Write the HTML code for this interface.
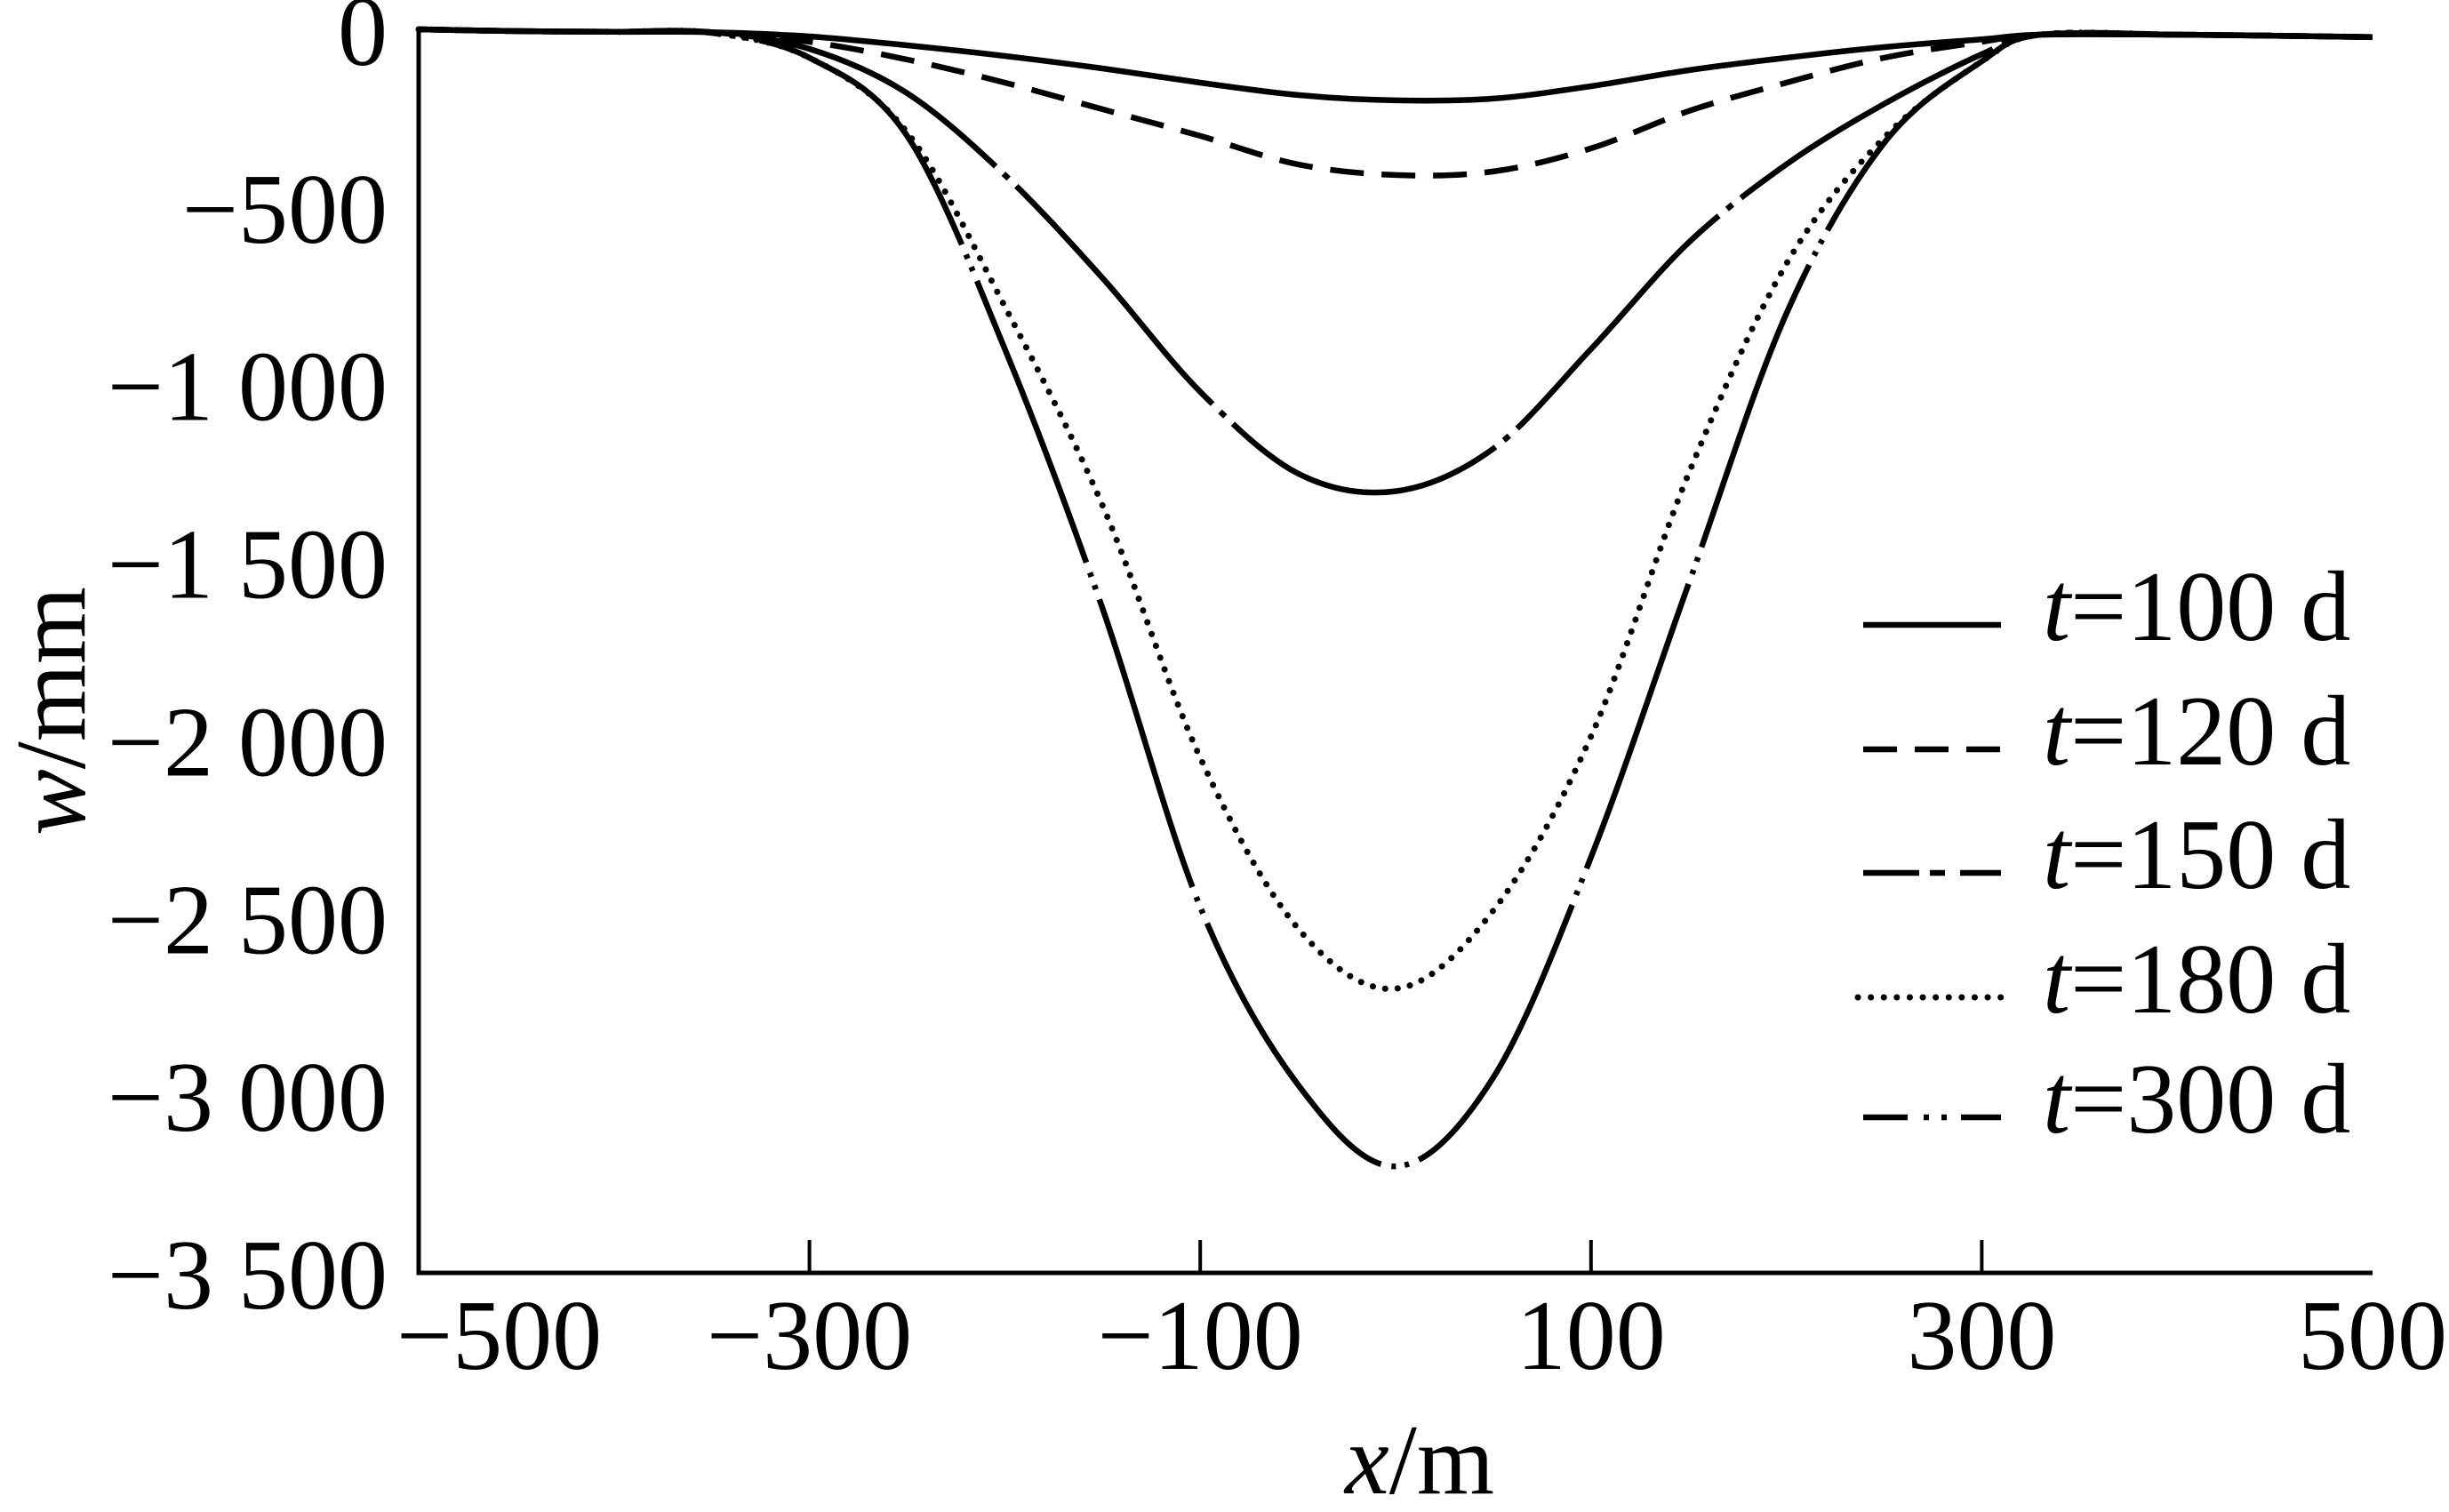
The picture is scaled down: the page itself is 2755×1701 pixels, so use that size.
<!DOCTYPE html>
<html><head><meta charset="utf-8"><style>
html,body{margin:0;padding:0;background:#fff;}
svg text{font-family:"Liberation Serif",serif;fill:#000;}
</style></head><body>
<svg id="chart" width="2755" height="1696" viewBox="0 0 2755 1696" xmlns="http://www.w3.org/2000/svg">
<g id="curves"></g>
<g id="axes"></g>
<g id="legend"></g>
</svg>
<script>
const xs = [-500,-450,-400,-350,-300,-250,-200,-150,-100,-50,0,50,100,150,200,250,300,330,400,450,500];
const s100 = [0,-5,-7,-8,-20,-45,-75,-110,-150,-185,-200,-195,-160,-115,-80,-50,-28,-15,-15,-18,-22];
const s120 = [0,-5,-7,-8,-35,-85,-150,-225,-300,-380,-410,-400,-335,-230,-150,-80,-35,-15,-15,-18,-22];
const s150 = [0,-5,-7,-8,-55,-180,-410,-700,-1020,-1250,-1300,-1180,-900,-600,-380,-210,-70,-15,-15,-18,-22];
const s180 = [0,-5,-7,-10,-80,-290,-780,-1340,-2050,-2530,-2700,-2480,-1990,-1250,-660,-305,-90,-15,-15,-18,-22];
const s300 = [0,-5,-7,-10,-80,-300,-900,-1630,-2470,-2970,-3200,-2950,-2330,-1560,-800,-320,-90,-15,-15,-18,-22];
const seriesNames = ["t=100 d","t=120 d","t=150 d","t=180 d","t=300 d"];
const xTicks = [-500,-300,-100,100,300,500];
const xTickLabels = ["\u2212500","\u2212300","\u2212100","100","300","500"];
const yTicks = [0,-500,-1000,-1500,-2000,-2500,-3000,-3500];
const yTickLabels = ["0","\u2212500","\u22121 000","\u22121 500","\u22122 000","\u22122 500","\u22123 000","\u22123 500"];

const X0=471, X1=2669, Y0=33, Y1=1432;
const xS = v => X0 + (v+500)/1000*(X1-X0);
const yS = v => Y0 + (-v)/3500*(Y1-Y0);
const NS="http://www.w3.org/2000/svg";
function mk(tag, attrs, parent){const e=document.createElementNS(NS,tag);for(const k in attrs)e.setAttribute(k,attrs[k]);parent.appendChild(e);return e;}

function pathFor(vals){
  const p = xs.map((x,i)=>[xS(x),yS(vals[i])]);
  let d = "M"+p[0][0].toFixed(1)+","+p[0][1].toFixed(1);
  for(let i=0;i<p.length-1;i++){
    const a=p[Math.max(0,i-1)], b=p[i], c=p[i+1], e=p[Math.min(p.length-1,i+2)];
    const c1=[b[0]+(c[0]-a[0])/6, b[1]+(c[1]-a[1])/6];
    const c2=[c[0]-(e[0]-b[0])/6, c[1]-(e[1]-b[1])/6];
    d+=" C"+c1[0].toFixed(1)+","+c1[1].toFixed(1)+" "+c2[0].toFixed(1)+","+c2[1].toFixed(1)+" "+c[0].toFixed(1)+","+c[1].toFixed(1);
  }
  return d;
}
const curves=document.getElementById("curves");
const seriesList=[s100,s120,s150,s180,s300];
const dashes=["none","38 20","330 12 8 12","0.1 14","340 12 5 10 5 12"];
const legendDashes=["none","38 20","63 12 17 17 46","0.1 14.5","50 18 6 14 6 16 46"];
const curveIds=["curve-t100","curve-t120","curve-t150","curve-t180","curve-t300"];
seriesList.forEach((s,i)=>{
  const el=mk("path",{d:pathFor(s),fill:"none",stroke:"#000","stroke-width":i==3?7:6.5,"stroke-dasharray":dashes[i],"stroke-linecap":i==3?"round":"butt","stroke-linejoin":"round"},curves);
  
  
});

const axes=document.getElementById("axes");
const yAxis=mk("line",{x1:X0,y1:Y0-2,x2:X0,y2:Y1+2.5,stroke:"#000","stroke-width":5},axes);


const xAxis=mk("line",{x1:X0-2.5,y1:Y1,x2:X1,y2:Y1,stroke:"#000","stroke-width":5},axes);


xTicks.forEach((t,i)=>{
  if(i>0 && i<xTicks.length-1){
    const tk=mk("line",{x1:xS(t),y1:Y1,x2:xS(t),y2:Y1-37,stroke:"#000","stroke-width":4},axes);
    
    
  }
  const first=i==0;
  const lb=mk("text",{x:first?xS(t)-25:xS(t),y:1540,"font-size":112,"text-anchor":first?"start":"middle"},axes);
  lb.textContent=xTickLabels[i];
  
  
});
yTicks.forEach((t,i)=>{
  const lb=mk("text",{x:436,y:yS(t)+40,"font-size":112,"text-anchor":"end"},axes);
  lb.textContent=yTickLabels[i];
  
  
});
const xt=mk("text",{x:1597,y:1680,"font-size":112,"text-anchor":"middle"},axes);
xt.innerHTML='<tspan font-style="italic">x</tspan>/m';


const yt=mk("text",{x:0,y:0,"font-size":112,"text-anchor":"middle",transform:"translate(95,800) rotate(-90)"},axes);
yt.innerHTML='<tspan font-style="italic">w</tspan>/mm';



const legend=document.getElementById("legend");
const legendY=[703,843,982,1122,1257];
seriesNames.forEach((n,i)=>{
  const g=mk("g",{},legend);
  
  
  const ln=mk("line",{x1:i==3?2090:2096,y1:legendY[i],x2:2251,y2:legendY[i],stroke:"#000","stroke-width":i==3?7:6.5,"stroke-dasharray":legendDashes[i],"stroke-linecap":i==3?"round":"butt"},g);
  
  
  const tx=mk("text",{x:2298,y:legendY[i]+17,"font-size":112},g);
  tx.innerHTML='<tspan font-style="italic">t</tspan>='+n.slice(2);
  
  
});
</script>
</body></html>
